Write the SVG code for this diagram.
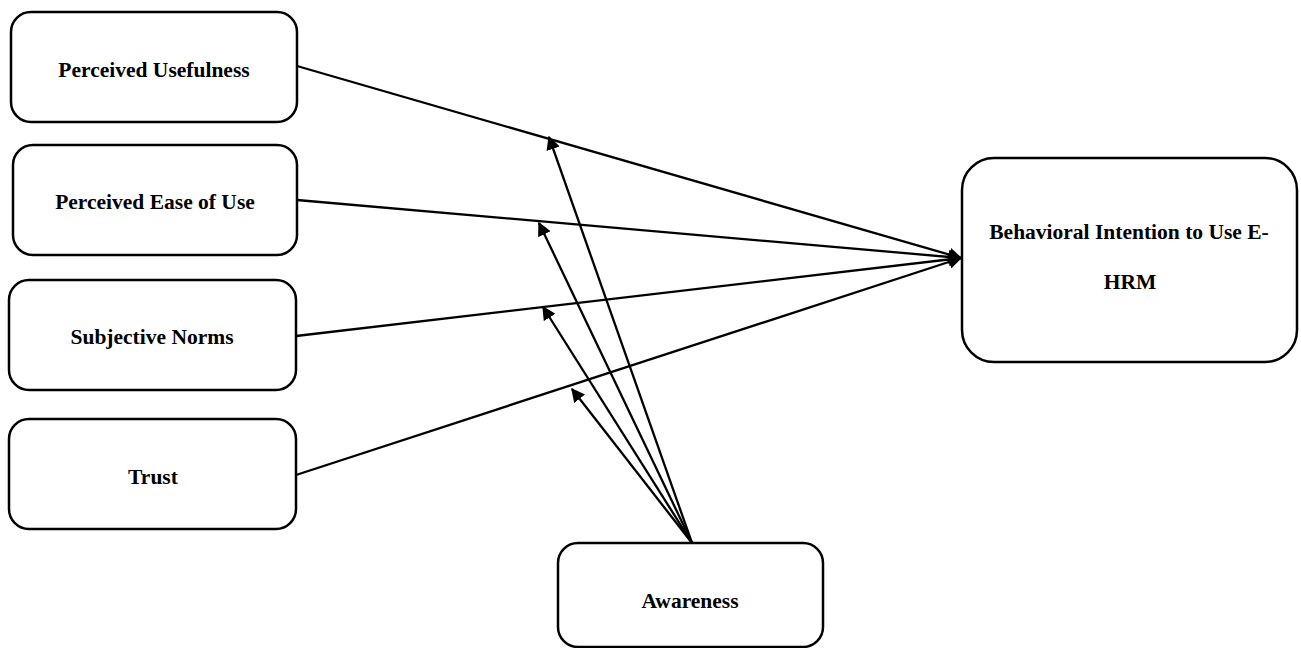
<svg xmlns="http://www.w3.org/2000/svg" width="1301" height="648" viewBox="0 0 1301 648">
  <style>
    .box { fill: #ffffff; stroke: #000000; stroke-width: 2.5; }
    .lbl { font-family: "Liberation Serif", "Times New Roman", serif; font-weight: bold; font-size: 21.5px; fill: #000000; text-anchor: middle; }
    .edge { stroke: #000000; stroke-width: 2.3; fill: none; }
  </style>
  <defs>
    <marker id="arrow" viewBox="0 0 10 10" refX="9" refY="5" markerWidth="6" markerHeight="6" markerUnits="strokeWidth" orient="auto">
      <path d="M0,0 L10,5 L0,10 Z" fill="#000000"/>
    </marker>
  </defs>
  <rect width="1301" height="648" fill="#ffffff"/>

  <g id="connectors">
    <line class="edge" x1="297" y1="66" x2="961" y2="258" marker-end="url(#arrow)"/>
    <line class="edge" x1="297" y1="200" x2="961" y2="258" marker-end="url(#arrow)"/>
    <line class="edge" x1="296" y1="336" x2="961" y2="258" marker-end="url(#arrow)"/>
    <line class="edge" x1="296" y1="475" x2="961" y2="258" marker-end="url(#arrow)"/>
    <line class="edge" x1="692" y1="543" x2="549" y2="137" marker-end="url(#arrow)"/>
    <line class="edge" x1="692" y1="543" x2="539" y2="223" marker-end="url(#arrow)"/>
    <line class="edge" x1="692" y1="543" x2="543" y2="307" marker-end="url(#arrow)"/>
    <line class="edge" x1="692" y1="543" x2="572" y2="389" marker-end="url(#arrow)"/>
  </g>

  <g id="perceived-usefulness">
    <rect class="box" x="11" y="12" width="286" height="110" rx="20"/>
    <text class="lbl" x="154" y="77">Perceived Usefulness</text>
  </g>
  <g id="perceived-ease-of-use">
    <rect class="box" x="13" y="145" width="284" height="110" rx="20"/>
    <text class="lbl" x="155" y="209">Perceived Ease of Use</text>
  </g>
  <g id="subjective-norms">
    <rect class="box" x="9" y="280" width="287" height="110" rx="20"/>
    <text class="lbl" x="152" y="344">Subjective Norms</text>
  </g>
  <g id="trust">
    <rect class="box" x="9" y="419" width="287" height="110" rx="20"/>
    <text class="lbl" x="153" y="484">Trust</text>
  </g>
  <g id="behavioral-intention">
    <rect class="box" x="962" y="158" width="335" height="204" rx="32"/>
    <text class="lbl" x="1129" y="239">Behavioral Intention to Use E-</text>
    <text class="lbl" x="1130" y="289">HRM</text>
  </g>
  <g id="awareness">
    <rect class="box" x="558" y="543" width="265" height="104" rx="20"/>
    <text class="lbl" x="690" y="608">Awareness</text>
  </g>
</svg>
